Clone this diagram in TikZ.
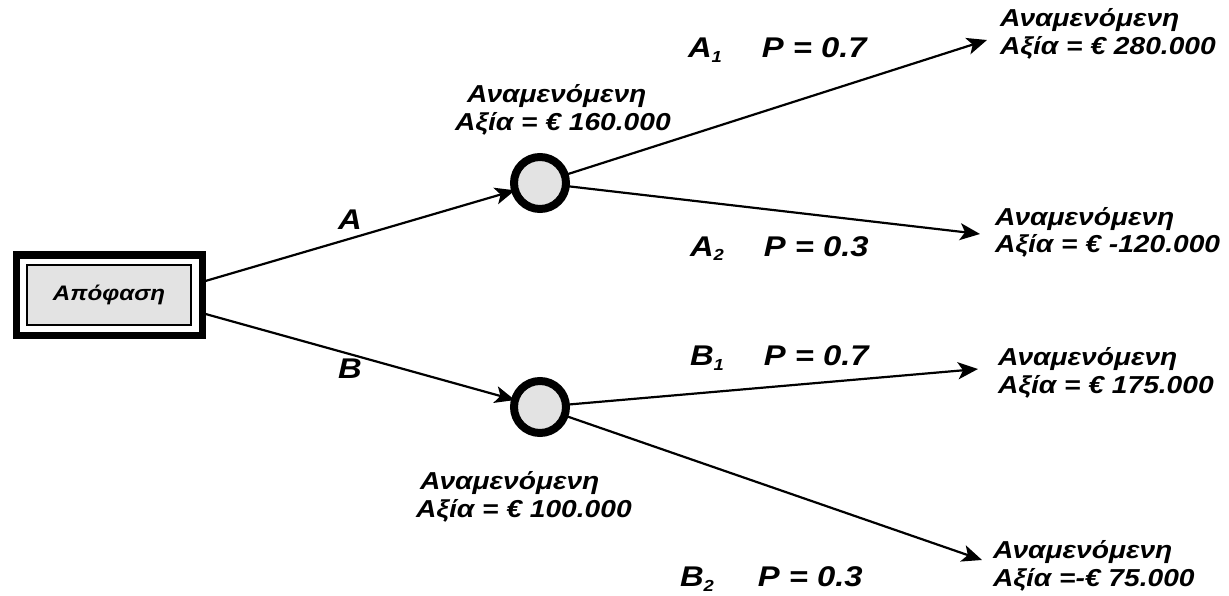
\documentclass[tikz,border=0pt]{standalone}
\usepackage{fontspec}
\newfontfamily\lbl[FakeStretch=1.15]{Liberation Sans}
\usetikzlibrary{arrows.meta}
\begin{document}
\begin{tikzpicture}[x=1pt,y=-1pt,
  every node/.style={inner sep=0pt,outer sep=0pt},
  txt/.style={font=\lbl\bfseries\itshape\fontsize{24.5}{28}\selectfont,align=left,anchor=base west},
  big/.style={font=\lbl\bfseries\itshape\fontsize{28.5}{32}\selectfont,anchor=base west},
  arr/.style={line width=2.2pt,-{Stealth[length=20pt,width=17pt,inset=5pt]}},
  chance/.style={circle,draw,line width=8pt,fill=gray!22,minimum size=52pt},
]
\useasboundingbox (0,0) rectangle (1229,596);

% decision box: heavy frame around a shaded panel
\node[draw,line width=7pt,fill=white,minimum width=186pt,minimum height=80pt] (box) at (109,295) {};
\node[draw,line width=1.2pt,fill=gray!22,minimum width=164pt,minimum height=60pt,
  font=\lbl\bfseries\itshape\fontsize{21}{24}\selectfont] (boxin) at (109,295) {Απόφαση};

% chance nodes
\node[chance] (c1) at (540,183) {};
\node[chance] (c2) at (540,407) {};

% end points of the outcome branches
\coordinate (e1) at (987,40);
\coordinate (e2) at (980,234);
\coordinate (e3) at (978,369);
\coordinate (e4) at (982,560);

% branches
\draw[arr] ([yshift=13pt]box.east) -- (c1);
\draw[arr] ([yshift=-18pt]box.east) -- (c2);
\draw[arr] (c1) -- (e1);
\draw[arr] (c1) -- (e2);
\draw[arr] (c2) -- (e3);
\draw[arr] (c2) -- (e4);

% decision labels
\node[big] (la) at (338,230) {A};
\node[big] (lb) at (338,378) {B};

% outcome labels with probabilities
\node[big] (la1) at (688,58) {A\raisebox{-5pt}{\fontsize{16}{16}\selectfont 1}\hspace{40pt}P = 0.7};
\node[big] (la2) at (690,256) {A\raisebox{-5pt}{\fontsize{16}{16}\selectfont 2}\hspace{40pt}P = 0.3};
\node[big] (lb1) at (690,365) {B\raisebox{-5pt}{\fontsize{16}{16}\selectfont 1}\hspace{40pt}P = 0.7};
\node[big] (lb2) at (680,586) {B\raisebox{-5pt}{\fontsize{16}{16}\selectfont 2}\hspace{44pt}P = 0.3};

% expected values at the chance nodes (anchored on the second line)
\node[txt] (m1) at (455,131) {\hspace{12pt}Αναμενόμενη\\Αξία = € 160.000};
\node[txt] (m2) at (416,517) {\hspace{4pt}Αναμενόμενη\\Αξία = € 100.000};

% expected values at the end of each branch
\node[txt] (v1) at (1000,55) {Αναμενόμενη\\Αξία = € 280.000};
\node[txt] (v2) at (995,253) {Αναμενόμενη\\Αξία = € -120.000};
\node[txt] (v3) at (998,393) {Αναμενόμενη\\Αξία = € 175.000};
\node[txt] (v4) at (993,586) {Αναμενόμενη\\Αξία =-€ 75.000};
\end{tikzpicture}
\end{document}
